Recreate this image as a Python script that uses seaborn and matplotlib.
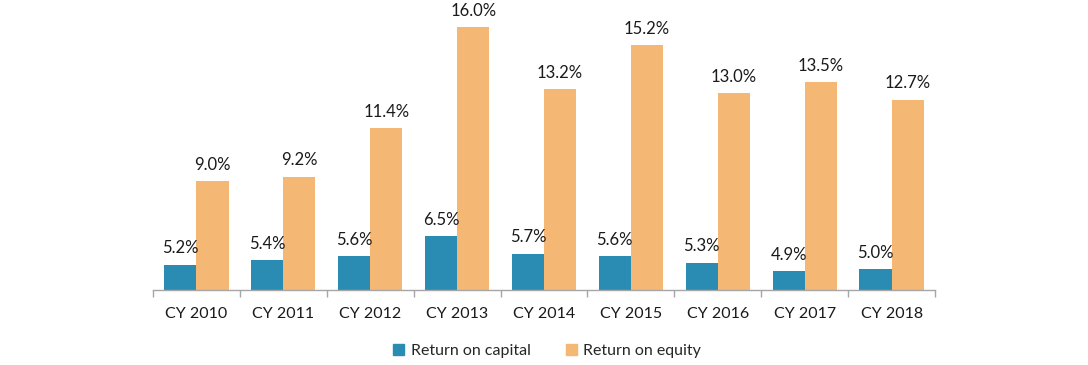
import pandas as pd
import matplotlib.pyplot as plt
import seaborn as sns

years = ['CY 2010', 'CY 2011', 'CY 2012', 'CY 2013', 'CY 2014',
         'CY 2015', 'CY 2016', 'CY 2017', 'CY 2018']
return_on_capital = [5.2, 5.4, 5.6, 6.5, 5.7, 5.6, 5.3, 4.9, 5.0]
return_on_equity = [9.0, 9.2, 11.4, 16.0, 13.2, 15.2, 13.0, 13.5, 12.7]
series_names = ['Return on capital', 'Return on equity']
colors = ['#2B8CB3', '#F5B774']

df = pd.DataFrame({
    'Year': years * 2,
    'Metric': [series_names[0]] * len(years) + [series_names[1]] * len(years),
    'Value': return_on_capital + return_on_equity,
})

sns.set_theme(style='white')
plt.rcParams['font.family'] = ['Lato', 'DejaVu Sans']

fig = plt.figure(figsize=(10.88, 3.65), dpi=100)
ax = fig.add_axes([0.1406, 0.2055, 0.7188, 0.78])

sns.barplot(data=df, x='Year', y='Value', hue='Metric', palette=colors,
            width=0.74, gap=0, saturation=1, linewidth=0, ax=ax, legend=False)

for cont in ax.containers:
    ax.bar_label(cont, fmt='%.1f%%', padding=6, fontsize=12, color='#1a1a1a')

ax.set_ylim(4.05, 17.0)
ax.set_xlim(-0.5, len(years) - 0.5)
ax.set_xlabel('')
ax.set_ylabel('')
ax.set_yticks([])

# tick marks between the groups
ax.set_xticks([i - 0.5 for i in range(len(years) + 1)], minor=True)
ax.tick_params(axis='x', which='minor', length=5, color='#A6A6A6', width=1, direction='out', bottom=True)
ax.tick_params(axis='x', which='major', length=0, labelsize=11.5, pad=12, colors='#1a1a1a')

for side in ['top', 'right', 'left']:
    ax.spines[side].set_visible(False)
ax.spines['bottom'].set_color('#A6A6A6')
ax.spines['bottom'].set_linewidth(1)

handles = [plt.Rectangle((0, 0), 1, 1, color=c) for c in colors]
fig.legend(handles, series_names, loc='center', bbox_to_anchor=(0.503, 0.038),
           ncol=2, frameon=False, fontsize=11.5, handlelength=0.7, handleheight=0.7,
           handletextpad=0.4, columnspacing=2.2)

fig.savefig('out.png', dpi=100)
